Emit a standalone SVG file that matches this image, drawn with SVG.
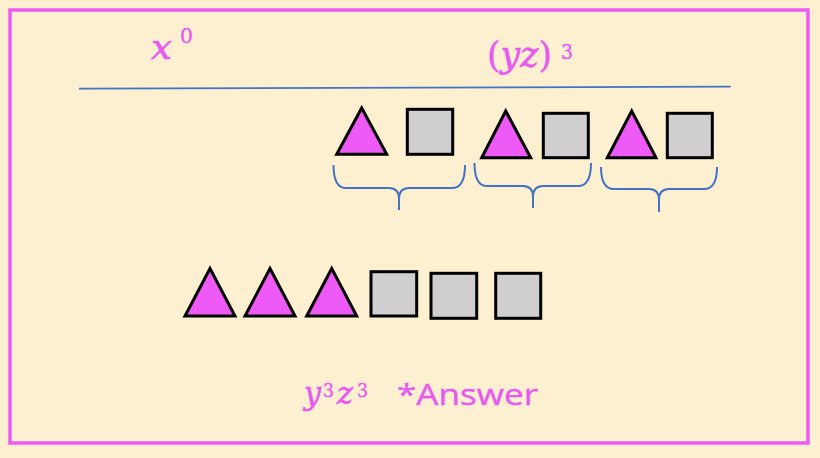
<svg xmlns="http://www.w3.org/2000/svg" width="820" height="458" viewBox="0 0 820 458">
<style>
.tri{fill:#EE5AF5;stroke:#000;stroke-width:3;stroke-linejoin:miter}
.sq{fill:#D0CECE;stroke:#000;stroke-width:3}
.br{fill:none;stroke:#4472C4;stroke-width:2;stroke-linecap:butt}
.m{font-family:"DejaVu Serif",serif;font-style:italic;fill:#E958EF;stroke:#E958EF;stroke-width:0.6}
.d{font-family:"DejaVu Serif",serif;fill:#E958EF;stroke:#E958EF;stroke-width:0.4}
.s{font-family:"Open Sans","Liberation Sans",sans-serif;fill:#E958EF;stroke:#E958EF;stroke-width:0.4}
</style>
<rect x="0" y="0" width="820" height="458" fill="#FCF0D0"/>
<rect x="10" y="10" width="798" height="433" fill="none" stroke="#EE5AF5" stroke-width="3.5"/>
<g id="labels">
<text class="m" x="151" y="59" font-size="36" textLength="21" lengthAdjust="spacingAndGlyphs">x</text>
<text class="d" x="180" y="43" font-size="21" textLength="13" lengthAdjust="spacingAndGlyphs">0</text>
<text x="487" y="67" font-size="35" textLength="65" lengthAdjust="spacingAndGlyphs"><tspan class="d">(</tspan><tspan class="m">yz</tspan><tspan class="d">)</tspan></text>
<text class="d" x="561" y="59" font-size="21" textLength="12" lengthAdjust="spacingAndGlyphs">3</text>
</g>
<g id="connectors">
<line x1="79" y1="88.7" x2="730.7" y2="86.7" stroke="#4472C4" stroke-width="1.8"/>
<path class="br" d="M333.5,165 Q333.5,188 346,188 L389,188 Q399,188 399,199 L399,210 M399,199 Q399,188 409,188 L452,188 Q465,188 465,165"/>
<path class="br" d="M474.5,163 Q474.5,186 487,186 L523,186 Q533,186 533,197 L533,208 M533,197 Q533,186 543,186 L578,186 Q591,186 591,163"/>
<path class="br" d="M601,167 Q601,189 614,189 L649,189 Q659,189 659,200 L659,212 M659,200 Q659,189 669,189 L704,189 Q717,189 717,167"/>
</g>
<g id="top-tri-1"><polygon class="tri" points="361.7,108 386.7,154.3 336.7,154.3"/></g>
<g id="top-sq-1"><rect class="sq" x="407.3" y="109.3" width="45.4" height="45"/></g>
<g id="top-tri-2"><polygon class="tri" points="505.7,111 530.7,157.7 481.7,157.7"/></g>
<g id="top-sq-2"><rect class="sq" x="543.3" y="113.3" width="45" height="44.4"/></g>
<g id="top-tri-3"><polygon class="tri" points="631.7,111 656,157.7 607.3,157.7"/></g>
<g id="top-sq-3"><rect class="sq" x="667.3" y="113.3" width="45" height="44.4"/></g>
<g id="bot-tri-1"><polygon class="tri" points="210,268.5 235,316 185,316"/></g>
<g id="bot-tri-2"><polygon class="tri" points="270,268.5 295,316 245,316"/></g>
<g id="bot-tri-3"><polygon class="tri" points="331.7,268.5 356.7,316 306.7,316"/></g>
<g id="bot-sq-1"><rect class="sq" x="371" y="271.7" width="45.7" height="44.3"/></g>
<g id="bot-sq-2"><rect class="sq" x="431" y="273.3" width="45.7" height="45"/></g>
<g id="bot-sq-3"><rect class="sq" x="495.7" y="273.3" width="45" height="45"/></g>
<g id="answer">
<text class="m" x="304" y="404" font-size="31" textLength="17" lengthAdjust="spacingAndGlyphs">y</text>
<text class="d" x="323" y="397" font-size="19" textLength="11" lengthAdjust="spacingAndGlyphs">3</text>
<text class="m" x="337" y="404" font-size="31" textLength="16" lengthAdjust="spacingAndGlyphs">z</text>
<text class="d" x="357" y="397" font-size="19" textLength="11" lengthAdjust="spacingAndGlyphs">3</text>
<text class="s" x="397" y="405" font-size="30" textLength="141" lengthAdjust="spacingAndGlyphs">*Answer</text>
</g>
</svg>
